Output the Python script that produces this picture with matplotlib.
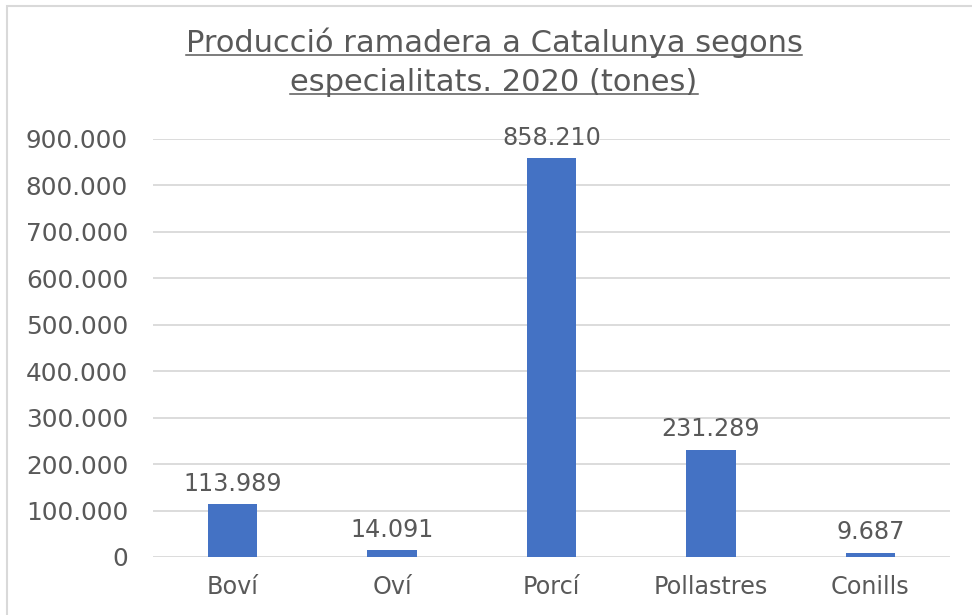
import matplotlib.pyplot as plt
from matplotlib.patches import Rectangle
from matplotlib.ticker import FuncFormatter

categories = ["Boví", "Oví", "Porcí", "Pollastres", "Conills"]
values = [113989, 14091, 858210, 231289, 9687]
yticks = [0, 100000, 200000, 300000, 400000, 500000, 600000, 700000, 800000, 900000]

TEXT = "#595959"
GRID = "#d9d9d9"
BAR = "#4472c4"


def dot_thousands(v, _pos=None):
    return f"{int(round(v)):,}".replace(",", ".")


plt.rcParams["font.family"] = ["DejaVu Sans"]

W, H = 972, 615
fig = plt.figure(figsize=(W / 100, H / 100), dpi=100, facecolor="white")

# outer chart border
fig.patches.append(Rectangle((7 / W, -0.1), 1.2, 1.1 - 6 / H, transform=fig.transFigure,
                             fill=False, edgecolor=GRID, linewidth=1.5))

ax = fig.add_axes([153 / W, 1 - 557 / H, (950 - 153) / W, (557 - 139) / H])
x = range(len(categories))
bars = ax.bar(x, values, width=0.31, color=BAR, zorder=3)
ax.set_xlim(-0.5, len(categories) - 0.5)
ax.set_ylim(0, 900000)
ax.set_yticks(yticks)
ax.yaxis.set_major_formatter(FuncFormatter(dot_thousands))
ax.set_xticks(list(x))
ax.set_xticklabels(categories)
ax.tick_params(axis="both", length=0, colors=TEXT)
ax.tick_params(axis="y", pad=18, labelsize=17.8)
ax.tick_params(axis="x", pad=13, labelsize=17.2)
ax.grid(True, axis="y", color=GRID, linewidth=1.3, zorder=0)
for spine in ax.spines.values():
    spine.set_visible(False)

for b, v in zip(bars, values):
    ax.annotate(dot_thousands(v), (b.get_x() + b.get_width() / 2, v),
                xytext=(0, 6), textcoords="offset points",
                ha="center", va="bottom", fontsize=17.2, color=TEXT)

# underlined two-line title
lines = ["Producció ramadera a Catalunya segons", "especialitats. 2020 (tones)"]
baselines = [52, 91]
fig.canvas.draw()
renderer = fig.canvas.get_renderer()
for line, yb in zip(lines, baselines):
    t = fig.text(494 / W, 1 - yb / H, line, ha="center", va="baseline",
                 fontsize=22, color=TEXT)
    bb = t.get_window_extent(renderer=renderer)
    y_ul = 1 - (yb + 3) / H
    fig.add_artist(plt.Line2D([bb.x0 / W, bb.x1 / W], [y_ul, y_ul],
                              transform=fig.transFigure, color=TEXT, linewidth=1.1))

fig.savefig("out.png", dpi=100, facecolor="white")
